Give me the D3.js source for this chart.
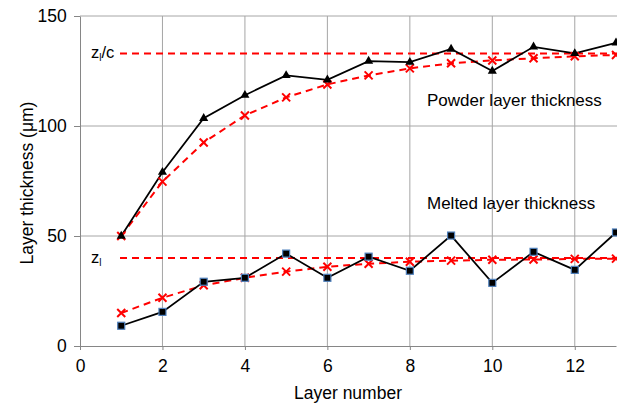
<!DOCTYPE html>
<html>
<head>
<meta charset="utf-8">
<script src="https://cdn.jsdelivr.net/npm/d3@7"></script>
<style>
  body { margin: 0; background: #fff; }
  text { font-family: "Liberation Sans", Arial, sans-serif; }
</style>
</head>
<body>
<svg id="chart" width="617" height="408"></svg>
<script>
// layer numbers
const layers = [1, 2, 3, 4, 5, 6, 7, 8, 9, 10, 11, 12, 13];
// measured / fitted thickness (µm)
const powderMeasured = [50, 79, 103.5, 114, 123, 121, 129.5, 129, 135, 125, 136, 133, 137.8];
const powderModel = [50, 74.7, 92.5, 104.8, 113, 118.9, 123, 126.2, 128.5, 129.8, 130.8, 131.7, 132.3];
const meltedMeasured = [9.2, 15.5, 29.2, 31, 42, 31, 40.6, 34.2, 50.2, 28.7, 42.8, 34.6, 51.6];
const meltedModel = [15, 21.9, 27.6, 31, 33.8, 36, 37.4, 38.3, 38.8, 39.2, 39.3, 39.6, 39.7];
const refLevels = [{ label: 'zl/c', value: 133 }, { label: 'zl', value: 40 }];
const xTicks = [0, 2, 4, 6, 8, 10, 12];
const yTicks = [0, 50, 100, 150];

const svg = d3.select('#chart');

const x = d3.scaleLinear().domain([0, 13]).range([80, 616]);
const y = d3.scaleLinear().domain([0, 150]).range([346, 16]);

// gridlines
svg.append('g')
  .selectAll('line.vg')
  .data(xTicks.filter(d => d > 0))
  .join('line')
  .attr('x1', d => x(d)).attr('x2', d => x(d))
  .attr('y1', y(0)).attr('y2', y(150))
  .attr('stroke', '#a6a6a6').attr('stroke-width', 1);

svg.append('g')
  .selectAll('line.hg')
  .data(yTicks.filter(d => d > 0))
  .join('line')
  .attr('x1', x(0)).attr('x2', 617)
  .attr('y1', d => y(d)).attr('y2', d => y(d))
  .attr('stroke', '#a6a6a6').attr('stroke-width', 1);

// axes
const xAxis = svg.append('g')
  .attr('transform', `translate(0,${y(0)})`)
  .call(d3.axisBottom(x).tickValues(xTicks).tickSize(4).tickSizeOuter(0).tickFormat(d3.format('d')));
const yAxis = svg.append('g')
  .attr('transform', `translate(${x(0)},0)`)
  .call(d3.axisLeft(y).tickValues(yTicks).tickSize(6).tickSizeOuter(0));

[xAxis, yAxis].forEach(a => {
  a.select('.domain').attr('stroke', '#868686');
  a.selectAll('.tick line').attr('stroke', '#868686');
  a.selectAll('.tick text')
    .attr('font-size', 17.5)
    .attr('fill', '#000')
    .attr('font-family', '"Liberation Sans", Arial, sans-serif');
});
xAxis.selectAll('.tick text').attr('dy', '1.1em');
yAxis.selectAll('.tick text').attr('dx', '-0.25em');

// axis titles
svg.append('text')
  .attr('x', 348).attr('y', 399)
  .attr('text-anchor', 'middle')
  .attr('font-size', 17.5)
  .text('Layer number');

svg.append('text')
  .attr('transform', `translate(33,${y(75) + 2}) rotate(-90)`)
  .attr('text-anchor', 'middle')
  .attr('font-size', 17.5)
  .text('Layer thickness (μm)');

// reference levels
svg.append('g')
  .selectAll('line')
  .data(refLevels)
  .join('line')
  .attr('x1', 120).attr('x2', 617)
  .attr('y1', d => y(d.value)).attr('y2', d => y(d.value))
  .attr('stroke', '#ff0000').attr('stroke-width', 2)
  .attr('stroke-dasharray', '7,5');

const refText = svg.append('g')
  .selectAll('text')
  .data(refLevels)
  .join('text')
  .attr('x', 91)
  .attr('y', d => y(d.value) + 5)
  .attr('font-size', 16.5)
  .attr('fill', '#000');
refText.append('tspan').text('z');
refText.append('tspan').attr('font-size', 10).attr('dy', 3).text('l');
refText.filter(d => d.label === 'zl/c').append('tspan').attr('dy', -3).text('/c');

const line = d3.line().x((d, i) => x(layers[i])).y(d => y(d));

// fitted model curves (dashed red)
[powderModel, meltedModel].forEach(series => {
  svg.append('path')
    .datum(series)
    .attr('d', line)
    .attr('fill', 'none')
    .attr('stroke', '#ff0000')
    .attr('stroke-width', 2)
    .attr('stroke-dasharray', '7,5');
});

// measured curves (black)
[powderMeasured, meltedMeasured].forEach(series => {
  svg.append('path')
    .datum(series)
    .attr('d', line)
    .attr('fill', 'none')
    .attr('stroke', '#000')
    .attr('stroke-width', 1.75);
});

// red cross markers
[powderModel, meltedModel].forEach(series => {
  svg.append('g')
    .selectAll('path')
    .data(series)
    .join('path')
    .attr('transform', (d, i) => `translate(${x(layers[i])},${y(d)})`)
    .attr('d', 'M-4,-4L4,4M-4,4L4,-4')
    .attr('stroke', '#ff0000')
    .attr('stroke-width', 2);
});

// triangles for powder
svg.append('g')
  .selectAll('path')
  .data(powderMeasured)
  .join('path')
  .attr('transform', (d, i) => `translate(${x(layers[i])},${y(d)})`)
  .attr('d', d3.symbol(d3.symbolTriangle, 36))
  .attr('fill', '#000');

// squares for melted
svg.append('g')
  .selectAll('rect')
  .data(meltedMeasured)
  .join('rect')
  .attr('x', (d, i) => x(layers[i]) - 3.5)
  .attr('y', d => y(d) - 3.5)
  .attr('width', 7).attr('height', 7)
  .attr('fill', '#000')
  .attr('stroke', '#4f81bd')
  .attr('stroke-width', 1.2);

// series labels
svg.append('text')
  .attr('x', 427).attr('y', 106)
  .attr('font-size', 17)
  .text('Powder layer thickness');
svg.append('text')
  .attr('x', 427).attr('y', 209)
  .attr('font-size', 17)
  .text('Melted layer thickness');
</script>
</body>
</html>
